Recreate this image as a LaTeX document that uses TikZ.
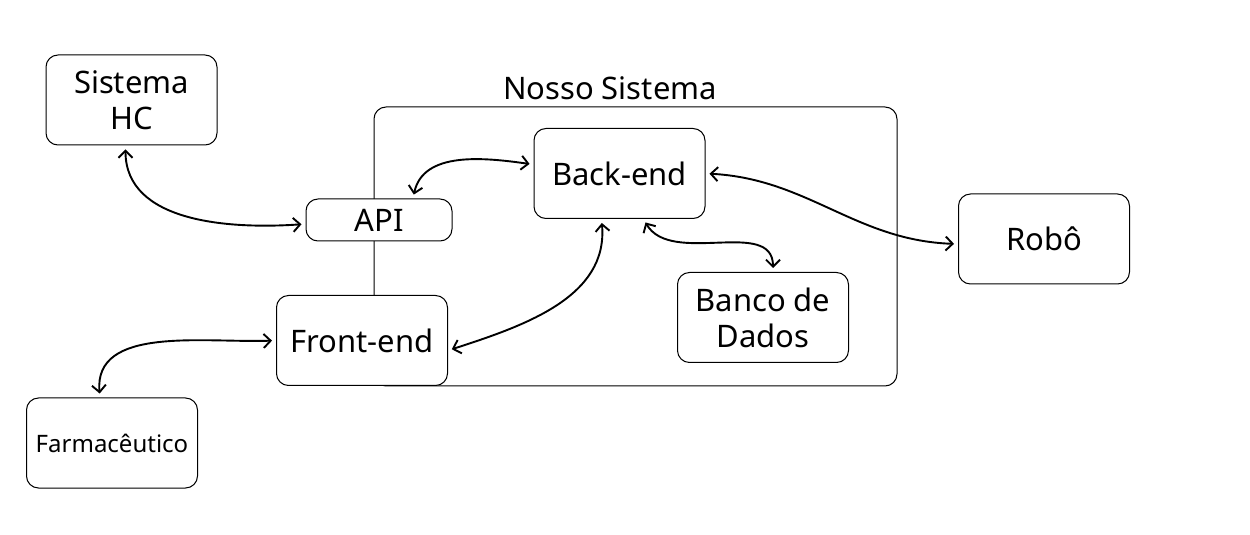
\documentclass[tikz,border=0pt]{standalone}
\usepackage{fontspec}
\setmainfont{Noto Sans}
\usetikzlibrary{arrows.meta}
\begin{document}
\begin{tikzpicture}[x=0.5pt,y=-0.5pt,
	box/.style={draw,rounded corners=6pt,fill=white,line width=0.5pt,align=center,
		minimum width=85.5pt,minimum height=45pt,font=\fontsize{15.5}{18}\selectfont},
	link/.style={{Straight Barb[length=3.5pt,width=7pt]}-{Straight Barb[length=3.5pt,width=7pt]},
		line width=0.95pt,shorten <=2pt,shorten >=2pt}]
	\useasboundingbox (0,0) rectangle (1250,535);
	% Draw the container of our system
	\node[draw,rounded corners=6pt,line width=0.5pt,minimum width=261.5pt,minimum height=139.5pt] (sys) at (635.5,246.5) {};
	\node[font=\fontsize{15.5}{18}\selectfont] (syslabel) at (610,88) {Nosso Sistema};
	% Boxes
	\node[box] (hc) at (131.5,100) {Sistema\\HC};
	\node[box] (back) at (619.5,173.5) {Back-end};
	\node[box,minimum width=73pt,minimum height=21pt] (api) at (379,220) {API};
	\node[box] (front) at (362,340.5) {Front-end};
	\node[box] (db) at (763,317.5) {Banco de\\Dados};
	\node[box] (robo) at (1044,239) {Robô};
	\node[box,font=\fontsize{12}{14}\selectfont] (farm) at (112,443) {Farmacêutico};
	% Connections
	\draw[link] ([xshift=-3pt]hc.south) to[out=-90,in=184,looseness=1] ([yshift=-2pt]api.west);
	\draw[link] ([xshift=17pt]api.north) to[out=78,in=172] ([yshift=4.5pt]back.west);
	\draw[link] ([xshift=-9pt]back.south) to[out=-85,in=18] ([yshift=-5pt]front.east);
	\draw[link] ([xshift=12pt]back.south) to[out=-60,in=90] ([xshift=5pt]db.north);
	\draw[link] (back.east) to[out=-3,in=178] ([yshift=-2.5pt]robo.west);
	\draw[link] (front.west) to[out=182,in=95] ([xshift=-6pt]farm.north);
\end{tikzpicture}
\end{document}
